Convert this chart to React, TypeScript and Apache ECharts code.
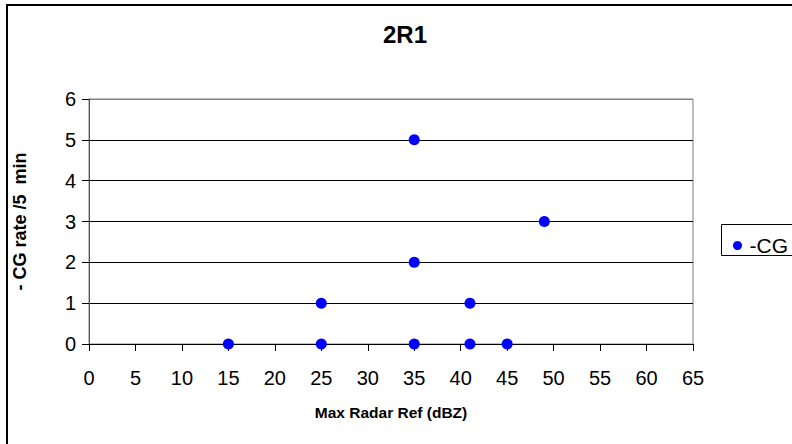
import React, { useEffect, useRef } from "react";
import * as echarts from "echarts";

const title = "2R1";
const seriesName = "-CG";
const xAxisName = "Max Radar Ref (dBZ)";
const yAxisName = "- CG rate /5  min";
const xValues = [15, 25, 25, 35, 35, 35, 41, 41, 45, 49];
const yValues = [0, 0, 1, 0, 2, 5, 0, 1, 0, 3];

const FONT = '"Liberation Sans", Arial, sans-serif';

export default function App() {
  const ref = useRef<HTMLDivElement>(null);
  useEffect(() => {
    if (!ref.current) return;
    const chart = echarts.init(ref.current, undefined, { renderer: "svg" });
    const data = xValues.map((x, i) => [x, yValues[i]]);
    chart.setOption({
      animation: false,
      backgroundColor: "#ffffff",
      title: {
        text: title,
        left: 400,
        textAlign: "center",
        top: 17,
        textStyle: { fontFamily: FONT, fontSize: 24, fontWeight: "bold", color: "#000" },
      },
      grid: {
        left: 89,
        right: 99,
        top: 99,
        bottom: 100,
        show: true,
        borderColor: "#808080",
        borderWidth: 1,
        backgroundColor: "#ffffff",
      },
      legend: {
        data: [seriesName],
        left: 728,
        top: 230,
        icon: "circle",
        itemWidth: 14,
        itemHeight: 9,
        itemGap: 5,
        itemStyle: { opacity: 1 },
        textStyle: { fontFamily: FONT, fontSize: 21, color: "#000", padding: [0, 0, 0, 0] },
      },
      xAxis: {
        type: "value",
        min: 0,
        max: 65,
        interval: 5,
        name: xAxisName,
        nameLocation: "middle",
        nameGap: 60,
        nameTextStyle: { fontFamily: FONT, fontSize: 15.5, fontWeight: "bold", color: "#000" },
        axisLine: { show: true, lineStyle: { color: "#000", width: 1 } },
        axisTick: { show: true, inside: false, length: 7, lineStyle: { color: "#000" } },
        axisLabel: { fontFamily: FONT, fontSize: 20, color: "#000", margin: 24 },
        splitLine: { show: false },
      },
      yAxis: {
        type: "value",
        min: 0,
        max: 6,
        interval: 1,
        name: yAxisName,
        nameLocation: "middle",
        nameRotate: 90,
        nameGap: 60,
        nameTextStyle: { fontFamily: FONT, fontSize: 18, fontWeight: "bold", color: "#000" },
        axisLine: { show: true, lineStyle: { color: "#555", width: 1 } },
        axisTick: { show: true, inside: false, length: 7, lineStyle: { color: "#000" } },
        axisLabel: { fontFamily: FONT, fontSize: 20, color: "#000", margin: 13 },
        splitLine: {
          show: true,
          lineStyle: { color: ["#000", "#000", "#000", "#000", "#000", "#000", "#808080"], width: 1 },
        },
      },
      graphic: [
        {
          type: "rect",
          shape: { x: 7, y: 5, width: 820, height: 470 },
          style: { fill: "none", stroke: "#000", lineWidth: 2 },
          silent: true,
          z: -10,
        },
        {
          type: "rect",
          shape: { x: 721.5, y: 224.5, width: 100, height: 31 },
          style: { fill: "#fff", stroke: "#000", lineWidth: 1 },
          silent: true,
          z: -5,
        },
      ],
      series: [
        {
          name: seriesName,
          type: "scatter",
          data,
          symbol: "circle",
          symbolSize: 11,
          itemStyle: { color: "#0000ff", opacity: 1 },
          z: 5,
        },
      ],
    });
    return () => chart.dispose();
  }, []);
  return (
    <div
      ref={ref}
      style={{ position: "fixed", left: 0, top: 0, width: 792, height: 444 }}
    />
  );
}
